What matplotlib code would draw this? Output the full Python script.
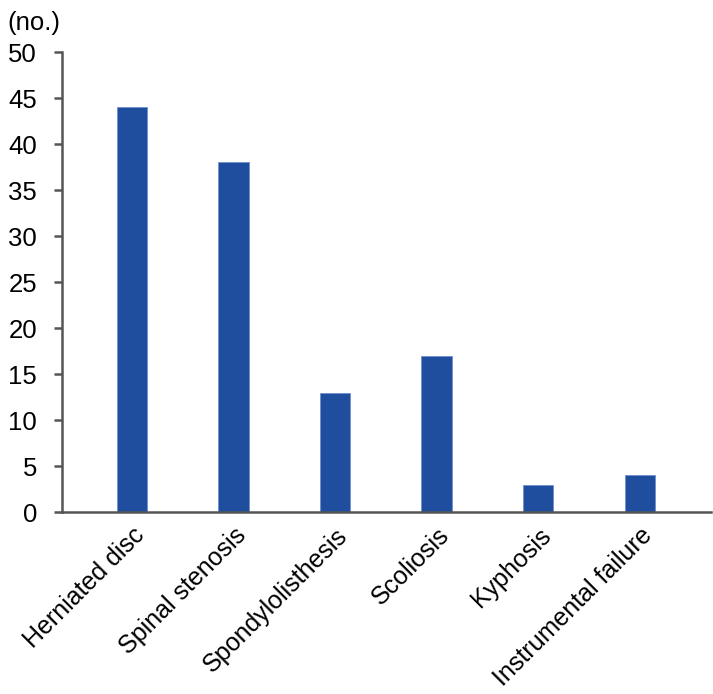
import matplotlib.pyplot as plt

plt.rcParams['font.family'] = ['Liberation Sans', 'DejaVu Sans']

categories = ['Herniated disc', 'Spinal stenosis', 'Spondylolisthesis',
              'Scoliosis', 'Kyphosis', 'Instrumental failure']
counts = [44, 38, 13, 17, 3, 4]

fig = plt.figure(figsize=(7.13, 6.94), dpi=100)
ax = fig.add_axes([0.087, 0.262, 0.91, 0.663])

x = range(len(categories))
ax.bar(x, counts, width=0.3, color='#1f4e9e', edgecolor='#6f8fcf', linewidth=0.6)

ax.set_xlim(-0.69, 5.7)
ax.set_ylim(0, 50)
ax.set_yticks(range(0, 51, 5))
ax.set_xticks(list(x))
ax.set_xticklabels(categories, rotation=45, ha='right', rotation_mode='anchor',
                   fontsize=18)
ax.tick_params(axis='y', labelsize=18.5, length=6, width=1.8, color='#555555', pad=12)
ax.tick_params(axis='x', length=0, pad=8)

for s in ['top', 'right']:
    ax.spines[s].set_visible(False)
for s in ['left', 'bottom']:
    ax.spines[s].set_color('#555555')
    ax.spines[s].set_linewidth(1.8)

fig.text(0.011, 0.967, '(no.)', fontsize=18.5, ha='left', va='center')

plt.savefig('out.png', dpi=100)
